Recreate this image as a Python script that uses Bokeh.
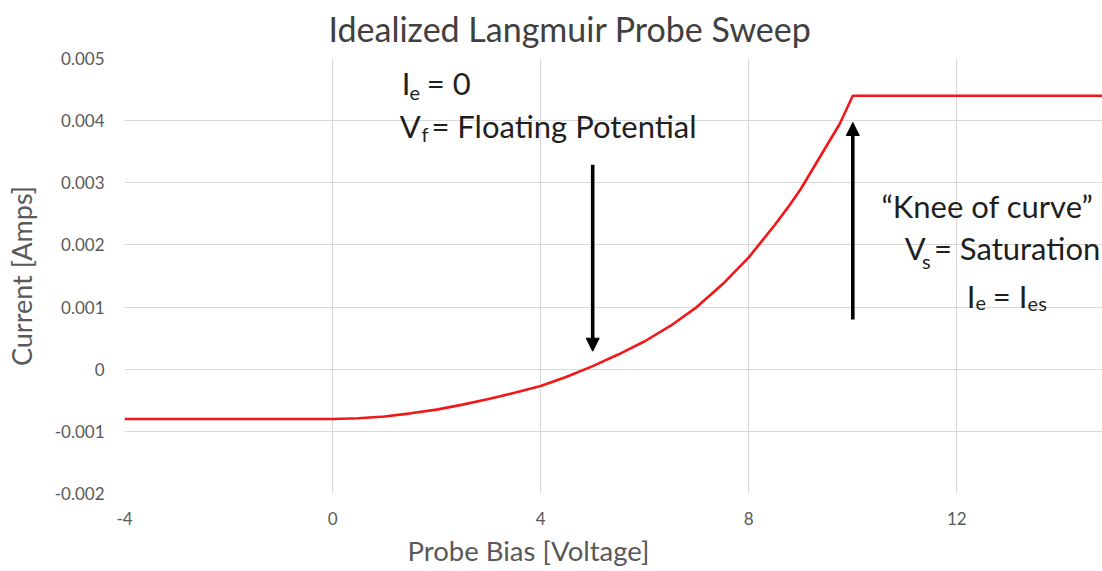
from bokeh.plotting import figure
from bokeh.models import Label, Arrow, NormalHead, FixedTicker, Range1d, Title
from bokeh.embed import file_html
from bokeh.resources import INLINE

# ---- data ----
bias = [-4, 0, 0.5, 1, 1.5, 2, 2.5, 3, 3.5, 4, 4.5, 5, 5.5, 6, 6.5, 7, 7.5, 8, 8.5, 8.75,
        9, 9.25, 9.5, 9.75, 10, 15]
current = [-0.0008, -0.0008, -0.00079, -0.00076, -0.00071, -0.00065, -0.00057, -0.00048, -0.00038,
           -0.00027, -0.00012, 0.00005, 0.00024, 0.00045, 0.0007, 0.001, 0.00137, 0.0018, 0.00232,
           0.0026, 0.0029, 0.00325, 0.0036, 0.00395, 0.0044, 0.0044]

x_ticks = [-4, 0, 4, 8, 12]
x_tick_labels = ["-4", "0", "4", "8", "12"]
y_ticks = [-0.002, -0.001, 0, 0.001, 0.002, 0.003, 0.004, 0.005]
y_tick_labels = ["-0.002", "-0.001", "0", "0.001", "0.002", "0.003", "0.004", "0.005"]

title_text = "Idealized Langmuir Probe Sweep"
x_title = "Probe Bias [Voltage]"
y_title = "Current [Amps]"

# arrows: (x, y_start, y_end)
arrow_down = (5.0, 0.00329, 0.00029)
arrow_up = (10.0, 0.0008, 0.00397)

FONT = "Lato"
GRID = "#d9d9d9"
TXT = "#595959"
ANN = "#1f1f1f"

p = figure(width=1102, height=571, output_backend="svg", toolbar_location=None,
           x_range=Range1d(-4, 14.8), y_range=Range1d(-0.002, 0.005),
           min_border_left=124, min_border_top=56, min_border_bottom=78, min_border_right=0)
p.outline_line_color = None
p.background_fill_color = "white"
p.border_fill_color = "white"

p.xaxis.ticker = FixedTicker(ticks=x_ticks)
p.yaxis.ticker = FixedTicker(ticks=y_ticks)
p.xaxis.major_label_overrides = {t: l for t, l in zip(x_ticks, x_tick_labels)}
p.yaxis.major_label_overrides = {t: l for t, l in zip(y_ticks, y_tick_labels)}
for ax in (p.xaxis, p.yaxis):
    ax.axis_line_color = None
    ax.major_tick_line_color = None
    ax.minor_tick_line_color = None
    ax.major_tick_out = 0
    ax.major_tick_in = 0
    ax.minor_tick_out = 0
    ax.major_label_text_font = FONT
    ax.major_label_text_font_size = "17px"
    ax.major_label_text_color = TXT
p.yaxis.major_label_standoff = 20
p.xaxis.major_label_standoff = 18

p.yaxis.axis_label = y_title
p.yaxis.axis_label_text_font = FONT
p.yaxis.axis_label_text_font_size = "27px"
p.yaxis.axis_label_text_font_style = "normal"
p.yaxis.axis_label_text_color = TXT
p.yaxis.axis_label_standoff = 14

p.xgrid.grid_line_color = GRID
p.ygrid.grid_line_color = GRID
p.xgrid.grid_line_width = 1.2
p.ygrid.grid_line_width = 1.2

p.line(bias, current, line_color="#f01818", line_width=2.6)

head_kw = dict(size=13, fill_color="black", line_color="black")
p.add_layout(Arrow(end=NormalHead(**head_kw), x_start=arrow_down[0], y_start=arrow_down[1],
                   x_end=arrow_down[0], y_end=arrow_down[2], line_width=3.6, line_color="black"))
p.add_layout(Arrow(end=NormalHead(**head_kw), x_start=arrow_up[0], y_start=arrow_up[1],
                   x_end=arrow_up[0], y_end=arrow_up[2], line_width=3.6, line_color="black"))


def lab(x, y, text, size, color=ANN):
    p.add_layout(Label(x=x, y=y, text=text, text_font=FONT, text_font_size=size,
                       text_color=color, text_align="left", text_baseline="alphabetic"))


BIG = "31px"
SUB = "20px"
# left annotation
lab(1.33, 0.0046, "I", BIG)
lab(1.48, 0.00445, "e", SUB)
lab(1.81, 0.0046, "= 0", BIG)
lab(1.29, 0.00392, "V", BIG)
lab(1.71, 0.00379, "f", SUB)
lab(1.90, 0.00392, "= Floating Potential", BIG)
# right annotation
lab(10.55, 0.00262, "\u201cKnee of curve\u201d", BIG)
lab(11.00, 0.00195, "V", BIG)
lab(11.33, 0.00174, "s", SUB)
lab(11.56, 0.00195, "= Saturation", BIG)
lab(12.19, 0.00118, "I", BIG)
lab(12.36, 0.00106, "e", SUB)
lab(12.69, 0.00118, "=", BIG)
lab(13.19, 0.00118, "I", BIG)
lab(13.36, 0.00106, "es", SUB)

# chart title and x-axis title
p.title = Title(text=title_text, align="left", offset=204, standoff=15,
                text_font=FONT, text_font_size="34px", text_font_style="normal",
                text_color="#404040", vertical_align="top")
p.add_layout(Title(text=x_title, align="left", offset=283, standoff=8,
                   text_font=FONT, text_font_size="27.5px", text_font_style="normal",
                   text_color=TXT), "below")

open("out.html", "w").write(file_html(p, INLINE))
